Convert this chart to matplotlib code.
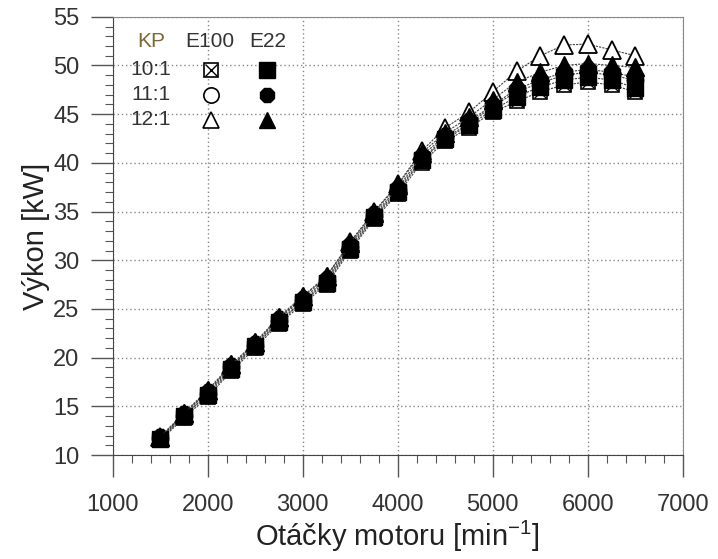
import numpy as np
import matplotlib
matplotlib.use('Agg')
import matplotlib.pyplot as plt
from matplotlib.ticker import MultipleLocator

plt.rcParams['font.family'] = ['Liberation Sans', 'DejaVu Sans']

# ── data ─────────────────────────────────────────────
rpm = [1500, 1750, 2000, 2250, 2500, 2750, 3000, 3250, 3500, 3750, 4000,
       4250, 4500, 4750, 5000, 5250, 5500, 5750, 6000, 6250, 6500]

e100_10 = [11.5, 13.8, 16.0, 18.6, 21.0, 23.5, 25.5, 27.5, 31.0, 34.2, 36.8,
           40.0, 42.2, 43.6, 45.2, 46.3, 47.3, 48.0, 48.3, 48.0, 47.3]
e100_11 = [11.7, 14.0, 16.3, 19.0, 21.2, 23.8, 25.8, 27.9, 31.4, 34.5, 37.2,
           40.4, 42.6, 44.0, 45.8, 47.3, 48.2, 49.0, 49.3, 49.0, 48.5]
e100_12 = [11.8, 14.2, 16.6, 19.2, 21.5, 24.1, 26.2, 28.3, 31.9, 35.0, 37.8,
           41.2, 43.6, 45.2, 47.3, 49.4, 51.0, 52.1, 52.2, 51.6, 51.0]
e22_10 = [11.6, 14.0, 16.2, 18.8, 21.2, 23.7, 25.7, 27.7, 31.2, 34.4, 37.0,
          40.3, 42.4, 43.9, 45.4, 46.8, 47.8, 48.5, 48.8, 48.5, 47.7]
e22_11 = [11.8, 14.2, 16.5, 19.1, 21.4, 24.0, 26.0, 28.1, 31.6, 34.7, 37.4,
          40.7, 42.8, 44.3, 45.9, 47.6, 48.5, 49.3, 49.6, 49.3, 48.8]
e22_12 = [11.9, 14.3, 16.7, 19.3, 21.6, 24.2, 26.3, 28.4, 31.8, 34.9, 37.7,
          41.0, 43.1, 44.7, 46.5, 48.3, 49.3, 50.0, 50.2, 50.0, 49.8]

ratios = ['10:1', '11:1', '12:1']

# ── figure ───────────────────────────────────────────
fig = plt.figure(figsize=(7.18, 5.59), dpi=100)
ax = fig.add_axes([0.157, 0.186, 0.794, 0.784])

line_kw = dict(color='#444444', lw=0.8, linestyle=(0, (2, 1)))

# E100 - open markers
ax.plot(rpm, e100_10, marker='s', ms=10.5, mfc='white', mec='black', mew=1.2, **line_kw)
ax.plot(rpm, e100_10, marker='x', ms=9, mec='black', mew=1.0, linestyle='none')
ax.plot(rpm, e100_11, marker='o', ms=11.5, mfc='white', mec='black', mew=1.2, **line_kw)
ax.plot(rpm, e100_12, marker='^', ms=12.5, mfc='white', mec='black', mew=1.3, **line_kw)
# E22 - filled markers
ax.plot(rpm, e22_10, marker='s', ms=11.5, mfc='black', mec='black', **line_kw)
ax.plot(rpm, e22_11, marker='8', ms=12, mfc='black', mec='black', **line_kw)
ax.plot(rpm, e22_12, marker='^', ms=12.5, mfc='black', mec='black', **line_kw)

ax.set_xlim(1000, 7000)
ax.set_ylim(10, 55)
ax.xaxis.set_major_locator(MultipleLocator(1000))
ax.xaxis.set_minor_locator(MultipleLocator(200))
ax.yaxis.set_major_locator(MultipleLocator(5))
ax.yaxis.set_minor_locator(MultipleLocator(1))

ax.grid(True, which='major', color='#888888', linestyle=(0, (1, 2)), lw=1.0)
ax.tick_params(which='major', direction='out', length=16, width=1.0,
               color='#555555', labelsize=17, labelcolor='#333333')
ax.tick_params(which='minor', direction='out', length=6, width=0.8, color='#555555')
ax.tick_params(axis='x', which='major', pad=12)
ax.tick_params(axis='y', which='major', pad=8)
for s in ['left', 'bottom']:
    ax.spines[s].set_color('#444444')
for s in ['top', 'right']:
    ax.spines[s].set_color('#888888')

ax.set_xlabel('Otáčky motoru [min$^{\\mathregular{-1}}$]', fontsize=21, color='#222222', labelpad=2)
ax.set_ylabel('Výkon [kW]', fontsize=21, color='#222222', labelpad=2)

# ── legend table ─────────────────────────────────────
def to_data(px, py):
    # axes fraction from pixel position within the axes box
    return (px - 113) / 570, 1 - (py - 17) / 438

txt_kw = dict(fontsize=15, color='#333333', ha='center', va='center', transform=ax.transAxes)
ax.text(*to_data(152, 42), 'KP', **dict(txt_kw, color='#7a6a30'))
ax.text(*to_data(210, 42), 'E100', **txt_kw)
ax.text(*to_data(268, 42), 'E22', **txt_kw)
rows_y = [70, 95, 120]
for r, py in zip(ratios, rows_y):
    ax.text(*to_data(151, py), r, **txt_kw)

open_marks = [('s', 10), ('o', 11), ('^', 11)]
fill_marks = [('s', 11), ('8', 11.5), ('^', 11)]
for (m1, s1), (m2, s2), py in zip(open_marks, fill_marks, rows_y):
    x1, y1 = to_data(211, py)
    x2, y2 = to_data(267, py)
    ax.plot(x1, y1, marker=m1, ms=s1, mfc='white', mec='black', mew=1.2,
            transform=ax.transAxes, clip_on=False)
    if m1 == 's':
        ax.plot(x1, y1, marker='x', ms=8.5, mec='black', mew=1.0,
                transform=ax.transAxes, clip_on=False)
    ax.plot(x2, y2, marker=m2, ms=s2, mfc='black', mec='black',
            transform=ax.transAxes, clip_on=False)

fig.savefig('out.png', dpi=100, facecolor='white')
